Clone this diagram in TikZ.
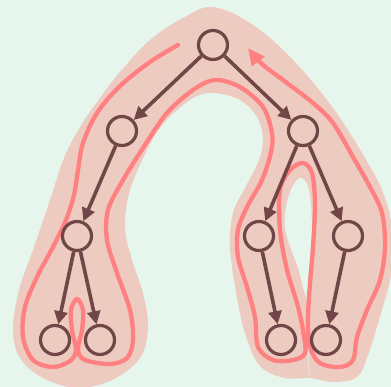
\documentclass[tikz,border=0pt]{standalone}
\usetikzlibrary{arrows.meta}
\definecolor{bgc}{RGB}{230,246,236}
\definecolor{blobc}{RGB}{237,203,193}
\definecolor{walkc}{RGB}{255,128,128}
\definecolor{treec}{RGB}{113,70,70}
\begin{document}
\begin{tikzpicture}[x=1pt,y=-1pt,
 tnode/.style={circle,draw=treec,line width=3.2pt,minimum size=29pt,inner sep=0pt},
 tedge/.style={draw=treec,line width=3.6pt,-{Triangle[length=13pt,width=13pt]}},
 walk/.style={draw=walkc,line width=4.3pt,line cap=round,line join=round},
]
\fill[bgc] (0,0) rectangle (391,387);
\useasboundingbox (0,0) rectangle (391,387);
% blob
\fill[blobc] plot[smooth cycle, tension=0.6] coordinates {
 (213,7) (253,25) (293,60) (333,108) (365,158) (384,195) (393,235) (391,275)
 (381,313) (368,355) (357,377) (333,382) (310,378) (285,378) (260,366) (245,333)
 (236,292) (230,247) (233,213) (245,188) (259,160) (263,138) (257,117) (240,100)
 (215,93) (197,96) (177,110) (160,128) (147,150) (130,190) (125,227) (132,260)
 (143,293) (148,327) (140,358) (112,380) (77,388) (43,378) (20,358) (13,330)
 (19,290) (33,250) (50,200) (64,158) (80,127) (100,98) (120,72) (150,40) (183,18)};
\fill[bgc] plot[smooth cycle, tension=0.6] coordinates {
 (300,178) (309,190) (312,230) (310,270) (307,298) (298,268) (285,228) (289,195)};
\draw[bgc!60!blobc, line width=0.8pt] (307,298) -- (309,378);
% walk
\draw[walk, -{Triangle[length=17pt,width=15pt]}] plot[smooth, tension=0.55] coordinates {
 (178,45) (150,62) (120,86) (97,113) (83,143) (78,170) (74,195) (66,220) (53,247)
 (37,277) (25,307) (23,337) (33,360) (53,367) (70,361) (76,350) (72,330) (71,310)
 (77,299) (83,310) (82,330) (78,350) (85,360) (110,364) (127,358) (133,340)
 (130,310) (117,273) (107,240) (108,210) (123,180) (143,148) (167,113) (193,90)
 (215,80) (240,87) (263,107) (272,133) (271,152) (262,180) (247,207) (238,230)
 (238,257) (247,287) (255,317) (258,347) (273,360) (293,360) (305,353) (303,330)
 (297,303) (287,270) (280,230) (280,190) (290,170) (303,163) (312,173) (315,203)
 (313,247) (310,283) (308,320) (310,347) (320,363) (340,367) (353,360) (357,337)
 (367,310) (380,280) (385,247) (382,213) (370,187) (353,157) (333,123) (313,103)
 (287,83) (262,64) (248,48)};
% tree
\node[tnode] (r) at (213,45) {};
\node[tnode] (a) at (122,131) {};
\node[tnode] (b) at (303,131) {};
\node[tnode] (aa) at (77,236) {};
\node[tnode] (aaa) at (55,340) {};
\node[tnode] (aab) at (100,340) {};
\node[tnode] (ba) at (259,236) {};
\node[tnode] (bb) at (348,236) {};
\node[tnode] (baa) at (281,340) {};
\node[tnode] (bba) at (326,340) {};
\draw[tedge] (r) -- (a);
\draw[tedge] (r) -- (b);
\draw[tedge] (a) -- (aa);
\draw[tedge] (aa) -- (aaa);
\draw[tedge] (aa) -- (aab);
\draw[tedge] (b) -- (ba);
\draw[tedge] (b) -- (bb);
\draw[tedge] (ba) -- (baa);
\draw[tedge] (bb) -- (bba);
\end{tikzpicture}
\end{document}
